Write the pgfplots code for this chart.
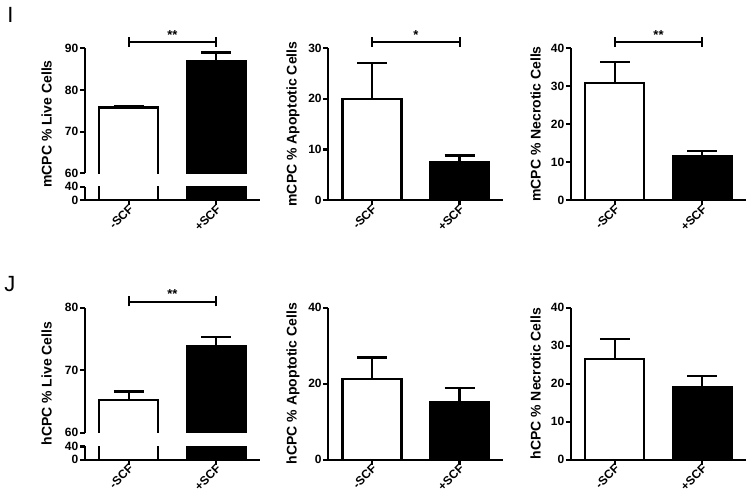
\documentclass[border=0pt]{standalone}
\usepackage{pgfplots}
\pgfplotsset{compat=1.18}
\usepackage{fontspec}
\setmainfont{Liberation Sans}
\newcommand{\tickfont}{\bfseries\fontsize{12}{12}\selectfont}
\newcommand{\starfont}{\bfseries\fontsize{13}{13}\selectfont}
\newcommand{\labfont}{\bfseries\fontsize{14}{14}\selectfont}
\pgfplotsset{
  gp/.style={
    scale only axis, width=175pt,
    xmin=-0.5, xmax=1.5,
    anchor=south west,
    axis line style={line width=2.2pt},
    tick style={line width=2.2pt, black},
    major tick length=5pt,
    tick align=outside,
    xtick={0,1}, xticklabels={-SCF,+SCF},
    xticklabel style={rotate=45, anchor=east, inner sep=1pt, yshift=-3pt, xshift=1.5pt, font=\tickfont},
    yticklabel style={inner sep=1.5pt, font=\tickfont},
    /pgf/number format/assume math mode=true,
    clip mode=individual,
  },
  wbar/.style={ybar, bar width=59pt, draw=black, fill=white, line width=2.2pt},
  wfill/.style={ybar, bar width=59pt, draw=none, fill=white},
  outline/.style={sharp plot, mark=none, black, line width=2.2pt},
  bbar/.style={ybar, bar width=59pt, draw=black, fill=black, line width=2.2pt},
  eb/.style={error bars/.cd, y dir=plus, y explicit,
    error bar style={line width=2.2pt, black},
    error mark options={rotate=90, line width=2.2pt, mark size=15pt, black}},
}
\newcommand{\bracket}[2]{%
  \draw[line width=2pt] ([yshift=6pt]axis cs:0,#1) -- ([yshift=6pt]axis cs:1,#1);
  \draw[line width=2pt] ([yshift=1.3pt]axis cs:0,#1) -- ([yshift=11.3pt]axis cs:0,#1);
  \draw[line width=2pt] ([yshift=1.3pt]axis cs:1,#1) -- ([yshift=11.3pt]axis cs:1,#1);
  \node[anchor=base, inner sep=0pt, font=\starfont] at ([yshift=9pt]axis cs:0.5,#1) {#2};
}
\begin{document}
\begin{tikzpicture}
\useasboundingbox (0pt,0pt) rectangle (753pt,499pt);

% ---------- Row 1 ----------
% Panel I-1 (broken axis) upper
\begin{axis}[gp, at={(85pt,325.7pt)}, height=125pt, ymin=60, ymax=90,
  ytick={60,70,80,90}, axis x line=none, axis y line*=left]
\addplot[wfill, eb] coordinates {(0,75.8) +- (0,0.3)};
\addplot[outline] coordinates {(-0.337,0) (-0.337,75.8) (0.337,75.8) (0.337,0)};
\addplot[bbar, eb] coordinates {(1,86.9) +- (0,2.1)};
\bracket{90}{**}
\end{axis}
% lower
\begin{axis}[gp, at={(85pt,299pt)}, height=13.3pt, ymin=0, ymax=40,
  ytick={0,40}, axis lines*=left]
\addplot[wbar] coordinates {(0,75.8)};
\addplot[bbar] coordinates {(1,86.9)};
\end{axis}

% Panel I-2
\begin{axis}[gp, at={(328.3pt,299pt)}, height=151.7pt, ymin=0, ymax=30,
  ytick={0,10,20,30}, axis lines*=left]
\addplot[wbar, eb] coordinates {(0,20.0) +- (0,7.1)};
\addplot[bbar, eb] coordinates {(1,7.5) +- (0,1.3)};
\bracket{30}{*}
\end{axis}

% Panel I-3
\begin{axis}[gp, at={(571pt,299pt)}, height=151.7pt, ymin=0, ymax=40,
  ytick={0,10,20,30,40}, axis lines*=left]
\addplot[wbar, eb] coordinates {(0,30.8) +- (0,5.5)};
\addplot[bbar, eb] coordinates {(1,11.7) +- (0,1.3)};
\bracket{40}{**}
\end{axis}

% ---------- Row 2 ----------
% Panel J-1 upper
\begin{axis}[gp, at={(85pt,66.3pt)}, height=125pt, ymin=60, ymax=80,
  ytick={60,70,80}, axis x line=none, axis y line*=left]
\addplot[wfill, eb] coordinates {(0,65.2) +- (0,1.4)};
\addplot[outline] coordinates {(-0.337,0) (-0.337,65.2) (0.337,65.2) (0.337,0)};
\addplot[bbar, eb] coordinates {(1,73.9) +- (0,1.4)};
\bracket{80}{**}
\end{axis}
% lower
\begin{axis}[gp, at={(85pt,39.3pt)}, height=13.3pt, ymin=0, ymax=40,
  ytick={0,40}, axis lines*=left]
\addplot[wbar] coordinates {(0,65.2)};
\addplot[bbar] coordinates {(1,73.9)};
\end{axis}

% Panel J-2
\begin{axis}[gp, at={(328.3pt,39.3pt)}, height=152pt, ymin=0, ymax=40,
  ytick={0,20,40}, axis lines*=left]
\addplot[wbar, eb] coordinates {(0,21.2) +- (0,5.7)};
\addplot[bbar, eb] coordinates {(1,15.2) +- (0,3.7)};
\end{axis}

% Panel J-3
\begin{axis}[gp, at={(571pt,39.3pt)}, height=152pt, ymin=0, ymax=40,
  ytick={0,10,20,30,40}, axis lines*=left]
\addplot[wbar, eb] coordinates {(0,26.5) +- (0,5.2)};
\addplot[bbar, eb] coordinates {(1,19.2) +- (0,2.9)};
\end{axis}

% y labels
\node[rotate=90, font=\labfont] at (46.7pt,375pt) {mCPC \% Live Cells};
\node[rotate=90, font=\labfont] at (293pt,375pt) {mCPC \% Apoptotic Cells};
\node[rotate=90, font=\labfont] at (535.7pt,375pt) {mCPC \% Necrotic Cells};
\node[rotate=90, font=\labfont] at (46.7pt,115.5pt) {hCPC \% Live Cells};
\node[rotate=90, font=\labfont] at (293pt,115.5pt) {hCPC \% Apoptotic Cells};
\node[rotate=90, font=\labfont] at (535.7pt,115.5pt) {hCPC \% Necrotic Cells};

% panel letters
\node[font=\fontsize{22}{22}\selectfont, inner sep=0pt] at (10.5pt,484pt) {I};
\node[font=\fontsize{22}{22}\selectfont, inner sep=0pt] at (10pt,215pt) {J};
\end{tikzpicture}
\end{document}
